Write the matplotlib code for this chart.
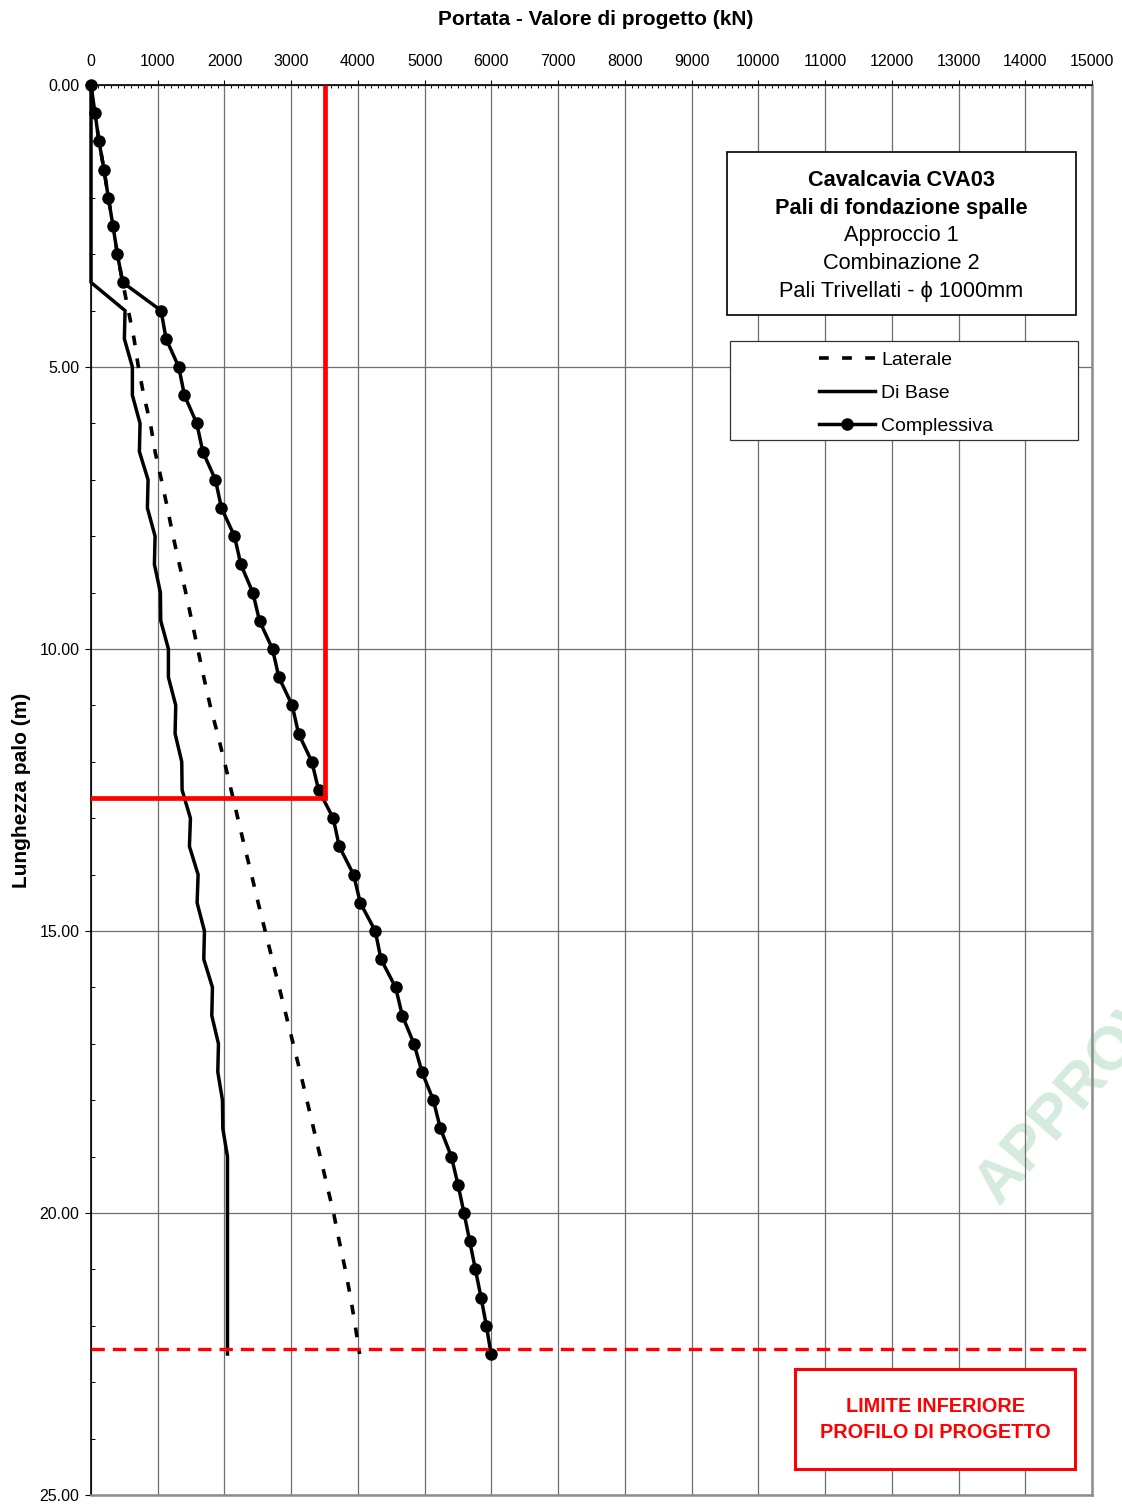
import matplotlib
matplotlib.use('Agg')
import matplotlib.pyplot as plt
from matplotlib.patches import Rectangle
from matplotlib.ticker import MultipleLocator, FormatStrFormatter

plt.rcParams['font.family'] = ['Liberation Sans', 'DejaVu Sans']

# ---------------- data ----------------
depth = [0.0, 0.5, 1.0, 1.5, 2.0, 2.5, 3.0, 3.5, 4.0, 4.5, 5.0, 5.5, 6.0, 6.5,
         7.0, 7.5, 8.0, 8.5, 9.0, 9.5, 10.0, 10.5, 11.0, 11.5, 12.0, 12.5,
         13.0, 13.5, 14.0, 14.5, 15.0, 15.5, 16.0, 16.5, 17.0, 17.5, 18.0,
         18.5, 19.0, 19.5, 20.0, 20.5, 21.0, 21.5, 22.0, 22.5]

laterale = [0, 60, 120, 195, 260, 330, 395, 475, 560, 645, 710, 790, 890, 960,
            1055, 1145, 1230, 1325, 1420, 1510, 1600, 1690, 1785, 1895, 2000,
            2100, 2200, 2300, 2405, 2505, 2610, 2715, 2820, 2925, 3030, 3135,
            3235, 3335, 3435, 3535, 3635, 3720, 3810, 3890, 3960, 4025]

di_base = [0, 0, 0, 0, 0, 0, 0, 0, 510, 500, 620, 620, 735, 725, 855, 845,
           960, 950, 1040, 1045, 1160, 1160, 1270, 1260, 1360, 1365, 1490,
           1475, 1605, 1590, 1700, 1690, 1820, 1810, 1910, 1900, 1970, 1975,
           2045, 2045, 2045, 2045, 2045, 2045, 2045, 2045]

complessiva = [0, 60, 120, 195, 260, 330, 395, 475, 1050, 1125, 1315, 1400,
               1585, 1675, 1865, 1955, 2150, 2245, 2425, 2525, 2720, 2815,
               3015, 3110, 3310, 3410, 3630, 3720, 3935, 4035, 4260, 4345,
               4565, 4665, 4840, 4960, 5130, 5235, 5400, 5500, 5590, 5675,
               5760, 5845, 5925, 5995]

design_load = 3500      # kN  (red vertical line)
design_depth = 12.65    # m   (red horizontal line)
min_length = 22.42      # m   (red dashed line)

x_ticks = [0, 1000, 2000, 3000, 4000, 5000, 6000, 7000, 8000, 9000, 10000,
           11000, 12000, 13000, 14000, 15000]
y_ticks = [0, 5, 10, 15, 20, 25]

series_labels = ['Laterale', 'Di Base', 'Complessiva']
info_lines = ['Cavalcavia CVA03', 'Pali di fondazione spalle', 'Approccio 1',
              'Combinazione 2', 'Pali Trivellati - \u03d5 1000mm']
limit_lines = ['LIMITE INFERIORE', 'PROFILO DI PROGETTO']

# ---------------- figure ----------------
W, H = 1122, 1504
fig = plt.figure(figsize=(W / 100, H / 100), dpi=100)
ax_l, ax_r, ax_t, ax_b = 91, 1092, 85, 1495
ax = fig.add_axes([ax_l / W, 1 - ax_b / H, (ax_r - ax_l) / W, (ax_b - ax_t) / H])


def axx(px):
    return (px - ax_l) / (ax_r - ax_l)


def axy(py):
    return 1 - (py - ax_t) / (ax_b - ax_t)


ax.set_xlim(0, 15000)
ax.set_ylim(25, 0)

ax.plot(laterale, depth, color='black', lw=2.6, ls=(0, (2.7, 3.7)),
        label=series_labels[0], zorder=3)
ax.plot(di_base, depth, color='black', lw=2.5, label=series_labels[1], zorder=3,
        clip_on=False)
ax.plot(complessiva, depth, color='black', lw=2.5, marker='o', ms=8,
        label=series_labels[2], zorder=4, clip_on=False)

ax.plot([design_load, design_load], [0, design_depth], color='#ff0000', lw=3.4,
        zorder=5, solid_capstyle='butt')
ax.plot([0, design_load], [design_depth, design_depth], color='#ff0000', lw=3.4,
        zorder=5, solid_capstyle='projecting')
ax.axhline(min_length, color='#ff0000', lw=2.4, ls=(0, (4, 2.4)), zorder=5)

# ticks
ax.xaxis.tick_top()
ax.set_xticks(x_ticks)
ax.xaxis.set_minor_locator(MultipleLocator(100))
ax.tick_params(axis='x', which='major', direction='out', length=3.6, width=0.8,
               pad=8, labelsize=11.5, top=True, bottom=False)
ax.tick_params(axis='x', which='minor', direction='in', length=2.2, width=0.7,
               top=True, bottom=False)
ax.set_yticks(y_ticks)
ax.yaxis.set_minor_locator(MultipleLocator(1))
ax.yaxis.set_major_formatter(FormatStrFormatter('%.2f'))
ax.tick_params(axis='y', which='major', direction='out', length=4.3, width=0.8,
               pad=4, labelsize=11.5, left=True, right=False)
ax.tick_params(axis='y', which='minor', direction='in', length=2.8, width=0.7,
               left=True, right=False)

ax.grid(True, which='major', color='#6e6e6e', lw=0.9)

for s in ['left', 'top']:
    ax.spines[s].set_color('black')
    ax.spines[s].set_linewidth(1.2)
for s in ['right', 'bottom']:
    ax.spines[s].set_color('#8c8c8c')
    ax.spines[s].set_linewidth(1.8)

ax.set_xlabel('Portata - Valore di progetto (kN)', fontsize=15, fontweight='bold')
ax.xaxis.set_label_position('top')
ax.xaxis.set_label_coords(axx(596), axy(25))
ax.set_ylabel('Lunghezza palo (m)', fontsize=15, fontweight='bold')
ax.yaxis.set_label_coords(axx(31), 0.5)

# info box
ax.add_patch(Rectangle((axx(727), axy(315)), axx(1076) - axx(727),
                       axy(152) - axy(315), transform=ax.transAxes,
                       facecolor='white', edgecolor='black', lw=1.2, zorder=6))
for i, (line, py) in enumerate(zip(info_lines, [178, 206, 233, 261, 289])):
    ax.text(axx(901.5), axy(py + 2.5), line, transform=ax.transAxes, ha='center',
            va='center', fontsize=15.7, fontweight='bold' if i < 2 else 'normal',
            zorder=7)

# legend box
ax.add_patch(Rectangle((axx(730), axy(440)), axx(1078) - axx(730),
                       axy(341) - axy(440), transform=ax.transAxes,
                       facecolor='white', edgecolor='#333333', lw=0.9, zorder=6))
leg = ax.legend(loc='center', bbox_to_anchor=(axx(906), axy(393)),
                frameon=False, fontsize=14, handlelength=2.9,
                handletextpad=0.3, labelspacing=0.78)
leg.set_zorder(7)

# limit box
ax.add_patch(Rectangle((axx(795), axy(1469)), axx(1075) - axx(795),
                       axy(1369) - axy(1469), transform=ax.transAxes,
                       facecolor='white', edgecolor='#ff0000', lw=2.2, zorder=6))
for line, py in zip(limit_lines, [1406, 1432]):
    ax.text(axx(935), axy(py), line, transform=ax.transAxes, ha='center',
            va='center', fontsize=14.3, fontweight='bold', color='#ff0000', zorder=7)

# watermark (partly outside the figure, as in the reference)
ax.text(999 / W, 1 - 1207 / H, 'APPROVATO', transform=fig.transFigure,
        rotation=49, rotation_mode='anchor', ha='left', va='baseline',
        fontsize=44, fontweight='bold', color='#d5ebde', zorder=0.5,
        clip_on=False)

fig.savefig('out.png', dpi=100)
